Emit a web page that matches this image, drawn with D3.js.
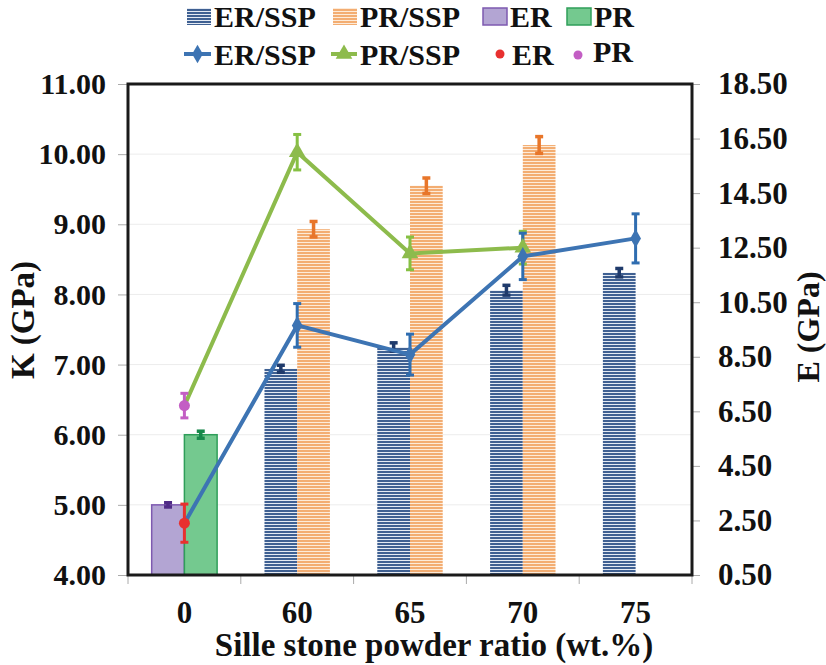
<!DOCTYPE html>
<html>
<head>
<meta charset="utf-8">
<script src="https://cdn.jsdelivr.net/npm/d3@7"></script>
<style>
  html, body { margin: 0; padding: 0; background: #fff; }
</style>
</head>
<body>
<svg id="chart" width="826" height="665"></svg>
<script>
// Categories: stone powder ratio (wt.%)
const categories = ["0", "60", "65", "70", "75"];

// Bulk modulus K (GPa), bars on the left axis
const kErSsp    = [null, 6.94, 7.25, 8.06, 8.31];
const kErSspErr = [null, 0.05, 0.06, 0.07, 0.06];
const kPrSsp    = [null, 8.93, 9.55, 10.13, null];
const kPrSspErr = [null, 0.11, 0.11, 0.12, null];
const kEr = 5.00, kErErr = 0.03;
const kPr = 6.00, kPrErr = 0.05;

// Elastic modulus E (GPa), lines on the right axis
const eErSsp    = [null, 9.65, 8.58, 12.18, 12.84];
const eErSspErr = [null, 0.80, 0.75, 0.85, 0.90];
const ePrSsp    = [null, 16.00, 12.29, 12.50, null];
const ePrSspErr = [null, 0.65, 0.60, 0.60, null];
const eEr = 2.40, eErErr = 0.70;
const ePr = 6.71, ePrErr = 0.45;

// Axis ticks
const kTicks = [4, 5, 6, 7, 8, 9, 10, 11];
const eTicks = [0.5, 2.5, 4.5, 6.5, 8.5, 10.5, 12.5, 14.5, 16.5, 18.5];

const svg = d3.select("#chart");
const plot = { left: 128, right: 692, top: 84, bottom: 575 };

const x = d3.scaleBand().domain(categories).range([plot.left, plot.right]).padding(0);
const yK = d3.scaleLinear().domain([4, 11]).range([plot.bottom, plot.top]);
const yE = d3.scaleLinear().domain([0.5, 18.5]).range([plot.bottom, plot.top]);
const barW = x.bandwidth() * 0.29;
const cx = c => x(c) + x.bandwidth() / 2;

function txt(sel, size) {
  return sel.style("font-family", '"Liberation Serif"').style("font-weight", "bold")
    .style("font-size", size + "px").attr("fill", "#111");
}

// Stripe patterns for the SSP bars
const defs = svg.append("defs");
function stripes(id, bg, fg) {
  const p = defs.append("pattern").attr("id", id).attr("patternUnits", "userSpaceOnUse")
    .attr("width", 6).attr("height", 3);
  p.append("rect").attr("width", 6).attr("height", 3).attr("fill", bg);
  p.append("rect").attr("y", 0).attr("width", 6).attr("height", 2).attr("fill", fg);
}
stripes("stripeBlue", "#e4eaf3", "#3f6092");
stripes("stripeOrange", "#fdebd9", "#f3ad72");

// Gridlines
svg.append("g").selectAll("line").data(kTicks.slice(1, -1)).join("line")
  .attr("x1", plot.left).attr("x2", plot.right)
  .attr("y1", d => yK(d)).attr("y2", d => yK(d))
  .attr("stroke", "#ececec").attr("stroke-width", 1);

// Left axis
const axL = svg.append("g").attr("transform", `translate(${plot.left},0)`)
  .call(d3.axisLeft(yK).tickValues(kTicks).tickFormat(d3.format(".2f")).tickSize(10).tickPadding(12));
axL.select(".domain").remove();
axL.selectAll("line").attr("stroke", "#aaa");
txt(axL.selectAll("text"), 30);

// Right axis
const axR = svg.append("g").attr("transform", `translate(${plot.right},0)`)
  .call(d3.axisRight(yE).tickValues(eTicks).tickFormat(d3.format(".2f")).tickSize(8).tickPadding(18));
axR.select(".domain").remove();
axR.selectAll("line").attr("stroke", "#aaa");
txt(axR.selectAll("text"), 31);

// Bottom axis: ticks on category boundaries, labels at centres
const bounds = categories.map(c => x(c)).concat([plot.right]);
svg.append("g").selectAll("line").data(bounds).join("line")
  .attr("x1", d => d).attr("x2", d => d).attr("y1", plot.bottom).attr("y2", plot.bottom + 9)
  .attr("stroke", "#aaa");
txt(svg.append("g").selectAll("text").data(categories).join("text")
  .attr("x", d => cx(d)).attr("y", 623).attr("text-anchor", "middle").text(d => d), 31);

// Axis titles
txt(svg.append("text").attr("transform", `translate(34,320) rotate(-90)`).attr("text-anchor", "middle")
  .text("K (GPa)"), 33);
txt(svg.append("text").attr("transform", `translate(819,327) rotate(-90)`).attr("text-anchor", "middle")
  .text("E (GPa)"), 32);
txt(svg.append("text").attr("x", 434).attr("y", 656).attr("text-anchor", "middle")
  .text("Sille stone powder ratio (wt.%)"), 33);

// Error bar helper
function errBar(g, xc, yTop, yBot, color, cap, w) {
  g.append("line").attr("x1", xc).attr("x2", xc).attr("y1", yTop).attr("y2", yBot)
    .attr("stroke", color).attr("stroke-width", w);
  [yTop, yBot].forEach(v => g.append("line").attr("x1", xc - cap).attr("x2", xc + cap)
    .attr("y1", v).attr("y2", v).attr("stroke", color).attr("stroke-width", w));
}

// Bars
const bars = svg.append("g");
const barData = [];
categories.forEach((c, i) => {
  if (kErSsp[i] != null) barData.push({ c, slot: 0, v: kErSsp[i], e: kErSspErr[i], fill: "url(#stripeBlue)", stroke: "none", ec: "#1f3a6b" });
  if (kPrSsp[i] != null) barData.push({ c, slot: 1, v: kPrSsp[i], e: kPrSspErr[i], fill: "url(#stripeOrange)", stroke: "none", ec: "#e8762a" });
});
barData.push({ c: "0", slot: 0, v: kEr, e: kErErr, fill: "#b3a5d3", stroke: "#7e5ab0", ec: "#4f2a86" });
barData.push({ c: "0", slot: 1, v: kPr, e: kPrErr, fill: "#74c98f", stroke: "#2f9e5a", ec: "#17884a" });

bars.selectAll("rect").data(barData).join("rect")
  .attr("x", d => cx(d.c) - barW + d.slot * barW)
  .attr("y", d => yK(d.v))
  .attr("width", barW)
  .attr("height", d => yK(4) - yK(d.v))
  .attr("fill", d => d.fill)
  .attr("stroke", d => d.stroke).attr("stroke-width", 1.5);
barData.forEach(d => {
  const xc = cx(d.c) - barW / 2 + d.slot * barW;
  errBar(bars, xc, yK(d.v + d.e), yK(d.v - d.e), d.ec, 4, 3.5);
});

// Frame
svg.append("rect").attr("x", plot.left).attr("y", plot.top)
  .attr("width", plot.right - plot.left).attr("height", plot.bottom - plot.top)
  .attr("fill", "none").attr("stroke", "#1a1a1a").attr("stroke-width", 3);

// Lines (E values)
const lines = svg.append("g");
const blue = "#3d74b3", green = "#8dbb4c";
const erLine = [{ c: "0", v: eEr }].concat(categories.map((c, i) => ({ c, v: eErSsp[i] })).filter(d => d.v != null));
const prLine = [{ c: "0", v: ePr }].concat(categories.map((c, i) => ({ c, v: ePrSsp[i] })).filter(d => d.v != null));
const lineGen = d3.line().x(d => cx(d.c)).y(d => yE(d.v));

lines.append("path").datum(prLine).attr("d", lineGen).attr("fill", "none").attr("stroke", green).attr("stroke-width", 4);
lines.append("path").datum(erLine).attr("d", lineGen).attr("fill", "none").attr("stroke", blue).attr("stroke-width", 4);

categories.forEach((c, i) => {
  if (ePrSsp[i] != null) errBar(lines, cx(c), yE(ePrSsp[i] + ePrSspErr[i]), yE(ePrSsp[i] - ePrSspErr[i]), "#86c043", 4, 3);
  if (eErSsp[i] != null) errBar(lines, cx(c), yE(eErSsp[i] + eErSspErr[i]), yE(eErSsp[i] - eErSspErr[i]), "#2f6db0", 4, 3);
});
errBar(lines, cx("0"), yE(ePr + ePrErr), yE(ePr - ePrErr), "#c35ec4", 4, 3);
errBar(lines, cx("0"), yE(eEr + eErErr), yE(eEr - eErErr), "#e8302f", 4, 3);

// Markers
const tri = d3.symbol().type(d3.symbolTriangle).size(120);
const dia = d3.symbol().type(d3.symbolDiamond).size(100);
lines.selectAll(".tri").data(prLine.slice(1)).join("path").attr("class", "tri")
  .attr("transform", d => `translate(${cx(d.c)},${yE(d.v)})`).attr("d", tri).attr("fill", green);
lines.selectAll(".dia").data(erLine.slice(1)).join("path").attr("class", "dia")
  .attr("transform", d => `translate(${cx(d.c)},${yE(d.v)})`).attr("d", dia).attr("fill", blue);
lines.append("circle").attr("cx", cx("0")).attr("cy", yE(ePr)).attr("r", 5.5).attr("fill", "#c35ec4");
lines.append("circle").attr("cx", cx("0")).attr("cy", yE(eEr)).attr("r", 5.5).attr("fill", "#e8302f");

// Legend
const leg = svg.append("g");
const row1 = [
  { x: 187, fill: "url(#stripeBlue)", stroke: "none", label: "ER/SSP" },
  { x: 333, fill: "url(#stripeOrange)", stroke: "none", label: "PR/SSP" },
  { x: 483, fill: "#b3a5d3", stroke: "#7e5ab0", label: "ER" },
  { x: 567, fill: "#74c98f", stroke: "#2f9e5a", label: "PR" }
];
row1.forEach(d => {
  leg.append("rect").attr("x", d.x).attr("y", 8).attr("width", 24).attr("height", 17)
    .attr("fill", d.fill).attr("stroke", d.stroke).attr("stroke-width", 1.5);
  txt(leg.append("text").attr("x", d.x + 27).attr("y", 27).text(d.label), 30);
});
const row2y = 54;
leg.append("line").attr("x1", 184).attr("x2", 211).attr("y1", row2y).attr("y2", row2y).attr("stroke", blue).attr("stroke-width", 4);
leg.append("path").attr("transform", `translate(197.5,${row2y})`).attr("d", dia).attr("fill", blue);
txt(leg.append("text").attr("x", 214).attr("y", 65).text("ER/SSP"), 30);
leg.append("line").attr("x1", 331).attr("x2", 357).attr("y1", row2y).attr("y2", row2y).attr("stroke", green).attr("stroke-width", 4);
leg.append("path").attr("transform", `translate(344,${row2y})`).attr("d", tri).attr("fill", green);
txt(leg.append("text").attr("x", 360).attr("y", 65).text("PR/SSP"), 30);
leg.append("circle").attr("cx", 500).attr("cy", row2y).attr("r", 4.5).attr("fill", "#e8302f");
txt(leg.append("text").attr("x", 512).attr("y", 65).text("ER"), 30);
leg.append("circle").attr("cx", 578).attr("cy", row2y + 1).attr("r", 4.5).attr("fill", "#c35ec4");
txt(leg.append("text").attr("x", 593).attr("y", 62).text("PR"), 30);
</script>
</body>
</html>
